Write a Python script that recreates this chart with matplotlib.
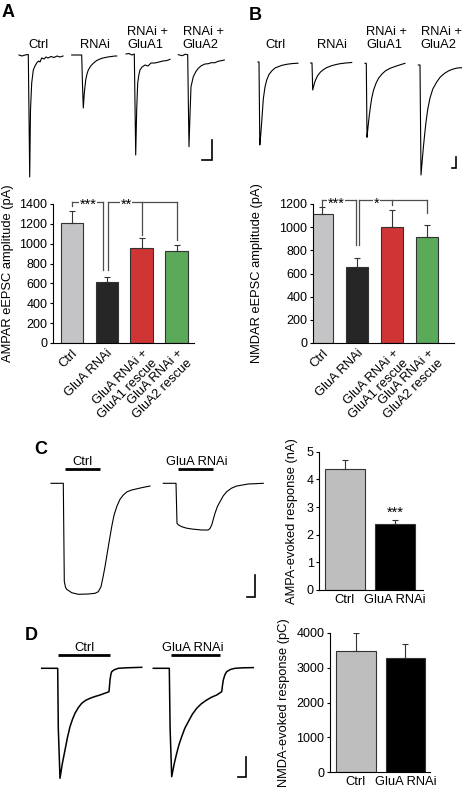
import matplotlib.pyplot as plt
import numpy as np

plt.rcParams['font.family'] = ['Liberation Sans', 'DejaVu Sans']
plt.rcParams['font.size'] = 9.3

W, H = 462, 788

# ---- bar chart data ----
groups_ab = ["Ctrl", "GluA RNAi", "GluA RNAi +\nGluA1 rescue", "GluA RNAi +\nGluA2 rescue"]
ampa_mean = [1210, 615, 960, 925]
ampa_sem = [120, 50, 100, 60]
nmda_mean = [1110, 660, 1005, 912]
nmda_sem = [68, 71, 144, 107]
colors_ab = ["#c4c4c6", "#262626", "#cf3535", "#5aaa5a"]

groups_cd = ["Ctrl", "GluA RNAi"]
ampa_evoked = [4.38, 2.38]
ampa_evoked_sem = [0.31, 0.16]
nmda_evoked = [3470, 3265]
nmda_evoked_sem = [530, 400]
colors_cd = ["#bebebe", "#000000"]

# significance brackets: bar positions, where each leg ends, bracket height
ampa_brackets = [
    dict(xs=[0, 0.9], ends=[1380, 735], y=1423, text="***", tx=0.47),
    dict(xs=[1.05, 2.0, 3.0], ends=[735, 1085, 1035], y=1423, text="**", tx=1.56),
]
nmda_brackets = [
    dict(xs=[0, 0.97], ends=[1185, 846], y=1234, text="***", tx=0.4),
    dict(xs=[1.05, 2.0, 3.0], ends=[846, 1190, 1120], y=1234, text="*", tx=1.54),
]

t_ctrl_a = [0, 3, 6, 9.3, 10.0, 10.7, 11.5, 12.7, 14.3, 16, 17.7, 19.5, 21, 22.7, 25, 27, 29, 32, 35, 38, 41, 44]
i_ctrl_a = [0, -1, 0, 0.5, -60, -122, -55, -28, -15, -11, -8, -6, -7, -3, -4, -2, -3, -1.5, -2.5, -1, -2, -1]
t_rnai_a = [0, 5, 10, 10.8, 11.6, 12.6, 14, 15.3, 16.6, 19, 21.6, 25, 30, 36, 43.3, 45]
i_rnai_a = [0, 0, 0, -30, -53, -38, -25, -19, -15, -11, -8.3, -5.5, -3.3, -2, -1, -1]
t_glua1_a = [0, 3, 6, 8.3, 9.0, 9.7, 10.7, 11.7, 13, 14, 16, 19, 22, 25, 29, 33, 37, 41, 44]
i_glua1_a = [0, 0.5, -1, 0, -50, -101, -55, -29, -20, -16, -13, -11, -12, -9, -9, -8, -7, -6.5, -5.3]
t_glua2_a = [0, 4, 7, 9.4, 10.0, 10.7, 11.7, 12.7, 15, 17.5, 20, 23, 26.7, 30, 33, 36.7, 40, 43, 46]
i_glua2_a = [0, -1, 0.5, 0, -45, -92, -60, -32, -22, -17, -13.6, -11, -9.3, -9, -8, -8, -6.5, -6, -5.3]

t_ctrl_b = [0, 1.0, 1.8, 2.8, 3.7, 5.3, 7, 8.7, 11, 13.7, 17, 20.3, 24, 28.7, 34, 40]
i_ctrl_b = [0, 0, -83, -72, -60, -37, -25, -18, -12.5, -9, -6, -4.7, -3.3, -2.3, -1.6, -1.2]
t_rnai_b = [0, 1.3, 2.0, 3.0, 4.3, 6, 7.6, 10, 12.6, 16, 21, 25, 29.3, 35, 41]
i_rnai_b = [0, 0, -27, -23, -18.4, -14.5, -11.7, -8.8, -6.7, -4.6, -2.7, -1.6, -0.7, 0, 0.5]
t_glua1_b = [0, 1.3, 2.0, 3.0, 4.3, 5.5, 6.7, 8.5, 11, 13.5, 16.7, 20.5, 25, 32, 40]
i_glua1_b = [0, 0, -74, -64, -52, -43, -35, -27, -20, -15, -11, -7.5, -5, -2.5, 0]
t_glua2_b = [0, 1.7, 2.7, 3.8, 5, 6.3, 7.7, 9.5, 11.7, 14.5, 18.4, 22, 26.7, 31, 35, 39, 43.4]
i_glua2_b = [0, 0, -110, -97, -83, -70, -57, -44, -33, -24, -17, -12, -8, -5.5, -4, -3, -2.7]

t_ctrl_c = [0, 12.3, 13.3, 14.5, 15.7, 20.7, 27.3, 37.3, 44, 47.3, 50, 52, 54, 57.3, 60.7, 63, 65.7, 69, 72.3, 76, 80.7, 90.7, 99]
i_ctrl_c = [0, 0, -98, -104, -106, -109.4, -111, -110.7, -110, -108.4, -103.4, -94, -83.4, -63.4, -43.4, -32, -23.4, -16, -11.7, -8.5, -6.7, -4.4, -2.7]
t_rnai_c = [0, 12.7, 13.7, 15, 18.4, 23, 28.4, 38.4, 45, 46.8, 48.4, 50, 51.7, 54, 56.7, 60, 63.4, 68, 73.4, 85, 100]
i_rnai_c = [0, 0, -40, -41.5, -43.4, -44.8, -45.7, -46.7, -46.7, -45, -41.7, -36, -30, -23.5, -18.4, -12.5, -8.4, -5, -2.7, -0.7, 0]
stim_ctrl_c = [14, 49]
stim_rnai_c = [14.4, 50]

t_ctrl_d = [0, 16, 16.6, 18.3, 20.5, 23.3, 25.8, 28.3, 30.8, 33.3, 36.5, 40, 44, 48.3, 53, 58.3, 63, 67.3, 68.3, 69.2, 70, 72.5, 76.6, 85, 100]
i_ctrl_d = [0, 0, -60, -110, -96, -81.7, -69, -58.4, -51, -45, -39.5, -35, -32, -30, -28.3, -26.7, -25, -23.4, -11.7, -6, -3.4, -1.5, 0, 0.5, 1]
t_rnai_d = [0, 16, 16.8, 18.4, 20.8, 23.4, 25.8, 28.4, 31.5, 35, 39, 43.4, 48, 53.4, 58, 63.4, 68.4, 69.2, 70, 71.6, 73.4, 77, 81.7, 90, 100]
i_rnai_d = [0, 0, -60, -108.4, -96, -85, -76, -68.4, -60, -53.4, -46, -40, -35.5, -31.7, -29, -26.7, -23.4, -17, -11.7, -6.5, -3.4, -1.2, 0, 0.5, 0.7]
stim_ctrl_d = [16.6, 68.3]
stim_rnai_d = [17.7, 66.7]


def px_box(x0, y0, x1, y1):
    """Pixel box (top-left origin) -> figure fraction rect."""
    return [x0 / W, 1 - y1 / H, (x1 - x0) / W, (y1 - y0) / H]


fig = plt.figure(figsize=(W / 100, H / 100), dpi=100)
fig.patch.set_facecolor("white")

# overlay for panel letters, trace titles and scale bars
ov = fig.add_axes([0, 0, 1, 1])
ov.set_xlim(0, W)
ov.set_ylim(H, 0)
ov.axis("off")


def add_trace(x0, y0, t, i, lw=0.8, stim=None, stim_h=14):
    t = np.asarray(t, float)
    i = np.asarray(i, float)
    pad = 3
    t0, t1 = t.min() - pad, t.max() + pad
    i0, i1 = i.min() - pad, i.max() + pad
    ax = fig.add_axes(px_box(x0 + t0, y0 - i1, x0 + t1, y0 - i0))
    ax.set_xlim(t0, t1)
    ax.set_ylim(i0, i1)
    ax.plot(t, i, color="black", lw=lw, solid_joinstyle="round")
    if stim is not None:
        ax.plot(stim, [stim_h, stim_h], color="black", lw=2, clip_on=False,
                solid_capstyle="butt")
    ax.axis("off")
    return ax


def scale_bar(x, y, w, h):
    ov.plot([x - w, x, x], [y, y, y - h], color="black", lw=1.2,
            solid_joinstyle="miter")


def bar_panel(box, means, sems, colors, labels, width, xlim, ylim, yticks,
              ylabel, label_x, rotate):
    ax = fig.add_axes(px_box(*box))
    x = np.arange(len(means))
    ax.bar(x, means, width=width, color=colors, edgecolor="#333333",
           linewidth=0.8, zorder=2)
    ax.errorbar(x, means, yerr=[np.zeros(len(means)), sems], fmt="none",
                ecolor="#333333", elinewidth=0.8, capsize=2, capthick=0.8,
                zorder=3)
    ax.set_xlim(*xlim)
    ax.set_ylim(*ylim)
    ax.set_yticks(yticks)
    ax.tick_params(axis="y", length=2.5, width=0.8, labelsize=9, pad=1.5)
    ax.spines[["top", "right"]].set_visible(False)
    for s in ["left", "bottom"]:
        ax.spines[s].set_linewidth(0.8)
    ax.set_xticks(x)
    if rotate:
        ax.set_xticklabels(labels, rotation=45, ha="right",
                           rotation_mode="anchor", fontsize=9.3)
    else:
        ax.set_xticklabels(labels, fontsize=9.3)
    ax.tick_params(axis="x", length=0, pad=3)
    ax.set_ylabel(ylabel, fontsize=9.3)
    ax.yaxis.set_label_coords(label_x, 0.5)
    return ax


def stars(ax, x, y, s):
    ax.annotate(s, (x, y), xytext=(0, -2.5), textcoords="offset points",
                ha="center", va="center", fontsize=10.5, annotation_clip=False,
                bbox=dict(facecolor="white", edgecolor="none", pad=0.4))


def brackets(ax, specs):
    for b in specs:
        ax.plot([min(b["xs"]), max(b["xs"])], [b["y"], b["y"]], color="#4d4d4d",
                lw=0.9, clip_on=False)
        for xi, yi in zip(b["xs"], b["ends"]):
            ax.plot([xi, xi], [b["y"], yi], color="#4d4d4d", lw=0.9, clip_on=False)
        stars(ax, b["tx"], b["y"], b["text"])


# ---- panel A ----
ov.text(2, 4, "A", fontsize=13, fontweight="bold", va="top", ha="left")
ov.text(38.5, 45, "Ctrl", ha="center", va="center")
ov.text(95, 45, "RNAi", ha="center", va="center")
ov.text(147.5, 38.5, "RNAi +\nGluA1", ha="center", va="center", multialignment="left", linespacing=1.05)
ov.text(203.3, 38.5, "RNAi +\nGluA2", ha="center", va="center", multialignment="left", linespacing=1.05)
add_trace(19, 55, t_ctrl_a, i_ctrl_a)
add_trace(71.7, 55, t_rnai_a, i_rnai_a)
add_trace(126, 54, t_glua1_a, i_glua1_a)
add_trace(178.3, 54.7, t_glua2_a, i_glua2_a)
scale_bar(211.7, 160, 9.5, 20)

ax_a = bar_panel((53, 204, 194, 343), ampa_mean, ampa_sem, colors_ab, groups_ab,
                 0.63, (-0.53, 3.5), (0, 1400), range(0, 1401, 200),
                 "AMPAR eEPSC amplitude (pA)", -0.28, True)
brackets(ax_a, ampa_brackets)

# ---- panel B ----
ov.text(249, 7, "B", fontsize=13, fontweight="bold", va="top", ha="left")
ov.text(275.5, 45, "Ctrl", ha="center", va="center")
ov.text(331.5, 45, "RNAi", ha="center", va="center")
ov.text(386.8, 38.5, "RNAi +\nGluA1", ha="center", va="center", multialignment="left", linespacing=1.05)
ov.text(441.3, 38.5, "RNAi +\nGluA2", ha="center", va="center", multialignment="left", linespacing=1.05)
add_trace(258, 62, t_ctrl_b, i_ctrl_b)
add_trace(310.7, 63, t_rnai_b, i_rnai_b)
add_trace(365, 63.3, t_glua1_b, i_glua1_b)
add_trace(418.3, 65, t_glua2_b, i_glua2_b)
scale_bar(456, 168, 4, 11)

ax_b = bar_panel((313, 204, 454, 343), nmda_mean, nmda_sem, colors_ab, groups_ab,
                 0.63, (-0.27, 3.76), (0, 1200), range(0, 1201, 200),
                 "NMDAR eEPSC amplitude (pA)", -0.355, True)
brackets(ax_b, nmda_brackets)

# ---- panel C ----
ov.text(34, 441, "C", fontsize=13, fontweight="bold", va="top", ha="left")
ov.text(82.3, 462, "Ctrl", ha="center", va="center")
ov.text(196.7, 462, "GluA RNAi", ha="center", va="center")
add_trace(51, 483.3, t_ctrl_c, i_ctrl_c, stim=stim_ctrl_c, stim_h=14)
add_trace(163.3, 483.3, t_rnai_c, i_rnai_c, stim=stim_rnai_c, stim_h=14)
scale_bar(255, 596.7, 8.3, 21.7)

ax_c = bar_panel((319.3, 451.7, 423.3, 590), ampa_evoked, ampa_evoked_sem, colors_cd,
                 groups_cd, 0.8, (-0.51, 1.57), (0, 5), range(0, 6),
                 "AMPA-evoked response (nA)", -0.205, False)
ax_c.annotate("***", (1, 2.9), xytext=(0, -2.5), textcoords="offset points",
              ha="center", va="center", fontsize=10.5)

# ---- panel D ----
ov.text(25, 627, "D", fontsize=13, fontweight="bold", va="top", ha="left")
ov.text(84.5, 648, "Ctrl", ha="center", va="center")
ov.text(193, 648, "GluA RNAi", ha="center", va="center")
add_trace(41.7, 668.3, t_ctrl_d, i_ctrl_d, lw=1.1, stim=stim_ctrl_d, stim_h=13.3)
add_trace(153.3, 668.3, t_rnai_d, i_rnai_d, lw=1.1, stim=stim_rnai_d, stim_h=13.3)
scale_bar(245.7, 776.7, 7.4, 20)

ax_d = bar_panel((330, 632.7, 430, 772.3), nmda_evoked, nmda_evoked_sem, colors_cd,
                 groups_cd, 0.8, (-0.525, 1.5), (0, 4000), range(0, 4001, 1000),
                 "NMDA-evoked response (pC)", -0.4, False)

fig.savefig("out.png", dpi=100)
